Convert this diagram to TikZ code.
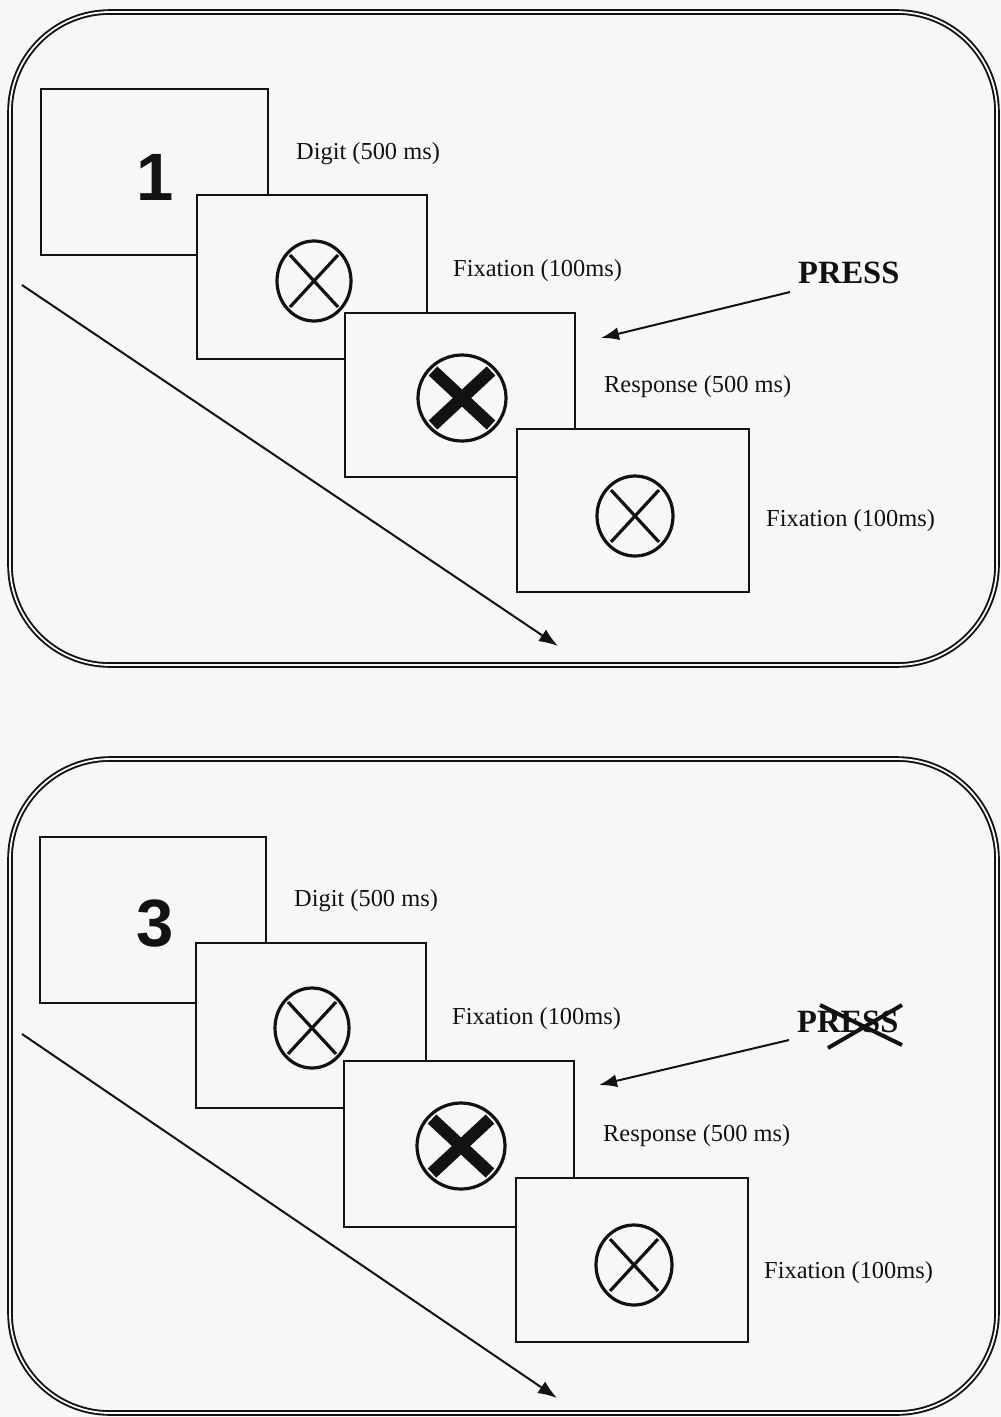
\documentclass[tikz,border=0pt]{standalone}
\usepackage{fontspec}
\setmainfont{Liberation Serif}
\newfontfamily\digitfont{Liberation Sans}
\usetikzlibrary{arrows.meta,shapes.geometric}
\definecolor{paper}{RGB}{246,247,249}
\definecolor{ink}{RGB}{18,18,18}
\tikzset{
  frame/.style={draw=ink, double=paper, double distance=1.8pt, line width=1.9pt, rounded corners=100pt},
  screen/.style={draw=ink, fill=paper, line width=1.7pt, inner sep=0pt, anchor=north west},
  ring/.style={ellipse, draw=ink, line width=3.2pt, inner sep=0pt},
  thinx/.style={draw=ink, line width=3.2pt},
  boldx/.style={draw=ink, line width=12.5pt},
  lbl/.style={inner sep=0pt, anchor=west, text=ink, font=\fontsize{24.4}{29}\selectfont},
  presslbl/.style={inner sep=0pt, anchor=base west, text=ink, font=\fontsize{32.5}{38}\selectfont\bfseries},
  digit/.style={inner sep=0pt, text=ink, font=\digitfont\fontsize{67}{70}\selectfont\bfseries},
  pointer/.style={draw=ink, line width=2pt, -{Latex[length=18pt,width=13pt]}},
  timeline/.style={draw=ink, line width=2pt, -{Latex[length=19pt,width=14pt]}},
  strike/.style={draw=ink, line width=4pt}
}
\begin{document}
\begin{tikzpicture}[x=1pt,y=-1pt]
\useasboundingbox (0,0) rectangle (1001,1417);
\fill[paper] (0,0) rectangle (1001,1417);

% ================= top panel =================
\draw[frame] (10,12) rectangle (997,665);
\coordinate (ta0) at (22,285);
\coordinate (ta1) at (558,646);
\draw[timeline] (ta0) -- (ta1);

\node[screen, minimum width=227, minimum height=166] (a1) at (40,88) {};
\node[digit] (a1n) at (155,177) {1};
\node[screen, minimum width=230, minimum height=164] (a2) at (196,194) {};
\node[ring, minimum width=74, minimum height=80] (a2r) at (314,281) {};
\draw[thinx] ([shift={(-24,-26)}]a2r.center) -- ([shift={(24,26)}]a2r.center);
\draw[thinx] ([shift={(-24,26)}]a2r.center) -- ([shift={(24,-26)}]a2r.center);
\node[screen, minimum width=230, minimum height=164] (a3) at (344,312) {};
\node[ring, minimum width=88, minimum height=86] (a3r) at (462,398) {};
\draw[boldx] ([shift={(-29,-27)}]a3r.center) -- ([shift={(29,27)}]a3r.center);
\draw[boldx] ([shift={(-29,27)}]a3r.center) -- ([shift={(29,-27)}]a3r.center);
\node[screen, minimum width=232, minimum height=163] (a4) at (516,428) {};
\node[ring, minimum width=76, minimum height=80] (a4r) at (635,516) {};
\draw[thinx] ([shift={(-24,-26)}]a4r.center) -- ([shift={(24,26)}]a4r.center);
\draw[thinx] ([shift={(-24,26)}]a4r.center) -- ([shift={(24,-26)}]a4r.center);

\node[lbl] (al1) at (296,154) {Digit (500 ms)};
\node[lbl] (al2) at (453,271) {Fixation (100ms)};
\node[lbl] (al3) at (604,387) {Response (500 ms)};
\node[lbl] (al4) at (766,521) {Fixation (100ms)};
\node[presslbl] (ap) at (798,283) {PRESS};
\coordinate (ap0) at (790,292);
\coordinate (ap1) at (601,338);
\draw[pointer] (ap0) -- (ap1);

% ================= bottom panel =================
\draw[frame] (10,759) rectangle (997,1413);
\coordinate (tb0) at (22,1034);
\coordinate (tb1) at (557,1398);
\draw[timeline] (tb0) -- (tb1);

\node[screen, minimum width=226, minimum height=166] (b1) at (39,836) {};
\node[digit] (b1n) at (155,923) {3};
\node[screen, minimum width=230, minimum height=165] (b2) at (195,942) {};
\node[ring, minimum width=74, minimum height=80] (b2r) at (312,1028) {};
\draw[thinx] ([shift={(-24,-26)}]b2r.center) -- ([shift={(24,26)}]b2r.center);
\draw[thinx] ([shift={(-24,26)}]b2r.center) -- ([shift={(24,-26)}]b2r.center);
\node[screen, minimum width=230, minimum height=166] (b3) at (343,1060) {};
\node[ring, minimum width=88, minimum height=86] (b3r) at (461,1146) {};
\draw[boldx] ([shift={(-29,-27)}]b3r.center) -- ([shift={(29,27)}]b3r.center);
\draw[boldx] ([shift={(-29,27)}]b3r.center) -- ([shift={(29,-27)}]b3r.center);
\node[screen, minimum width=232, minimum height=164] (b4) at (515,1177) {};
\node[ring, minimum width=76, minimum height=80] (b4r) at (634,1265) {};
\draw[thinx] ([shift={(-24,-26)}]b4r.center) -- ([shift={(24,26)}]b4r.center);
\draw[thinx] ([shift={(-24,26)}]b4r.center) -- ([shift={(24,-26)}]b4r.center);

\node[lbl] (bl1) at (294,901) {Digit (500 ms)};
\node[lbl] (bl2) at (452,1019) {Fixation (100ms)};
\node[lbl] (bl3) at (603,1136) {Response (500 ms)};
\node[lbl] (bl4) at (764,1273) {Fixation (100ms)};
\node[presslbl] (bp) at (797,1032) {PRESS};
\draw[strike] (820,1005) -- (902,1045);
\draw[strike] (828,1048) -- (902,1005);
\coordinate (bp0) at (789,1040);
\coordinate (bp1) at (599,1085);
\draw[pointer] (bp0) -- (bp1);
\end{tikzpicture}
\end{document}
